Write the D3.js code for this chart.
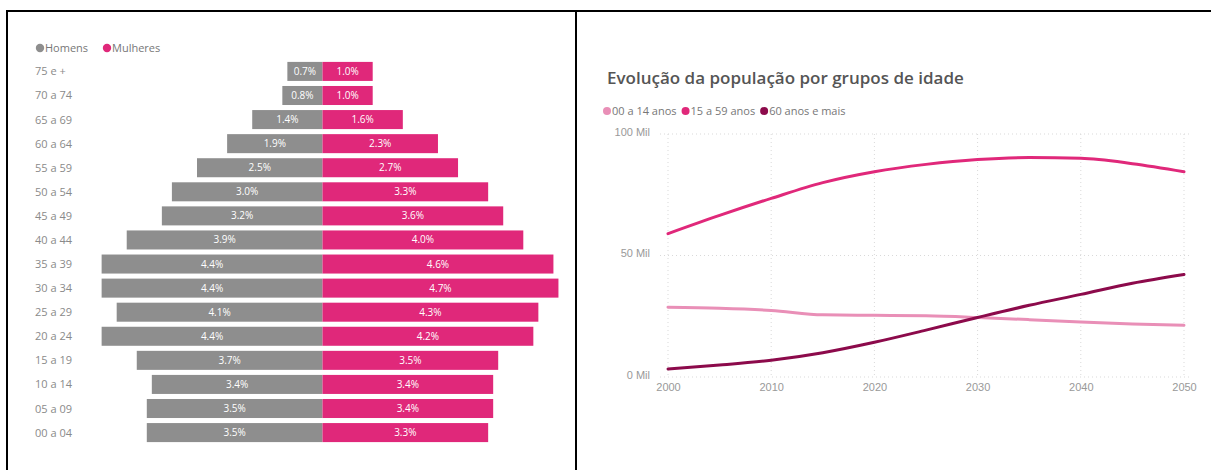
<!DOCTYPE html>
<html>
<head>
<meta charset="utf-8">
<title>Pirâmide etária e evolução da população</title>
<script src="https://cdn.jsdelivr.net/npm/d3@7"></script>
<style>
  body { margin: 0; background: #fff; }
  svg { display: block; font-family: "Open Sans", "Noto Sans", sans-serif; }
  .rowlab { font-size: 11px; fill: #8a8a8a; }
  .barlab { font-size: 10px; fill: #fff; text-anchor: middle; }
  .leg { font-size: 11px; fill: #777; }
  .leg2 { font-size: 11px; fill: #777; }
  .tick text { font-size: 11px; fill: #999; }
  .grid line { stroke: #d9d9d9; stroke-dasharray: 1,3; }
</style>
</head>
<body>
<div id="chart"></div>
<script>
// pyramid data (% of population), top row first
var ageGroups = ["75 e +","70 a 74","65 a 69","60 a 64","55 a 59","50 a 54","45 a 49","40 a 44",
                 "35 a 39","30 a 34","25 a 29","20 a 24","15 a 19","10 a 14","05 a 09","00 a 04"];
var homens   = [0.7, 0.8, 1.4, 1.9, 2.5, 3.0, 3.2, 3.9, 4.4, 4.4, 4.1, 4.4, 3.7, 3.4, 3.5, 3.5];
var mulheres = [1.0, 1.0, 1.6, 2.3, 2.7, 3.3, 3.6, 4.0, 4.6, 4.7, 4.3, 4.2, 3.5, 3.4, 3.4, 3.3];

// population evolution (thousands, "Mil")
var anos      = [2000, 2005, 2010, 2015, 2020, 2025, 2030, 2035, 2040, 2045, 2050];
var jovens    = [28.7, 28.3, 27.4, 25.6, 25.4, 25.2, 24.5, 23.6, 22.6, 21.8, 21.3];
var adultos   = [59.0, 66.5, 73.5, 80.0, 84.5, 87.5, 89.5, 90.3, 90.0, 87.8, 84.5];
var idosos    = [3.3, 4.9, 6.9, 10.0, 14.3, 19.3, 24.5, 29.5, 34.0, 38.6, 42.2];
var serieNames = ["00 a 14 anos", "15 a 59 anos", "60 anos e mais"];
var yTicks = [0, 50, 100];
var xTicks = [2000, 2010, 2020, 2030, 2040, 2050];

var W = 1211, H = 470;
var svg = d3.select("#chart").append("svg").attr("width", W).attr("height", H);
svg.append("rect").attr("width", W).attr("height", H).attr("fill", "#fff");

var gray = "#8e8e8e", pink = "#e0287a";

// ---------- pyramid ----------
var cx = 322.5;
var xs = d3.scaleLinear().domain([0, 5]).range([0, 251]);
var ys = d3.scaleBand().domain(ageGroups).range([59.5, 444.5]).paddingInner(0.21).paddingOuter(0.1);

var leg1 = svg.append("g").attr("transform", "translate(40,48)");
leg1.append("circle").attr("r", 4.2).attr("fill", gray);
leg1.append("text").attr("class", "leg").attr("x", 5).attr("y", 4).text("Homens");
leg1.append("circle").attr("cx", 67).attr("r", 4.2).attr("fill", pink);
leg1.append("text").attr("class", "leg").attr("x", 72).attr("y", 4).text("Mulheres");

svg.append("g").selectAll("text").data(ageGroups).join("text")
  .attr("class", "rowlab")
  .attr("x", 35)
  .attr("y", function(d){ return ys(d) + ys.bandwidth()/2 + 4; })
  .text(function(d){ return d; });

var rows = svg.append("g").selectAll("g").data(ageGroups).join("g");
rows.append("rect")
  .attr("x", function(d,i){ return cx - xs(homens[i]); })
  .attr("y", function(d){ return ys(d); })
  .attr("width", function(d,i){ return xs(homens[i]); })
  .attr("height", ys.bandwidth())
  .attr("fill", gray);
rows.append("rect")
  .attr("x", cx)
  .attr("y", function(d){ return ys(d); })
  .attr("width", function(d,i){ return xs(mulheres[i]); })
  .attr("height", ys.bandwidth())
  .attr("fill", pink);
rows.append("text").attr("class", "barlab")
  .attr("x", function(d,i){ return cx - xs(homens[i])/2; })
  .attr("y", function(d){ return ys(d) + ys.bandwidth()/2 + 3.5; })
  .text(function(d,i){ return homens[i].toFixed(1) + "%"; });
rows.append("text").attr("class", "barlab")
  .attr("x", function(d,i){ return cx + xs(mulheres[i])/2; })
  .attr("y", function(d){ return ys(d) + ys.bandwidth()/2 + 3.5; })
  .text(function(d,i){ return mulheres[i].toFixed(1) + "%"; });

// ---------- line chart ----------
var lx = d3.scaleLinear().domain([2000, 2050]).range([668, 1184]);
var ly = d3.scaleLinear().domain([0, 100]).range([377, 134]);

svg.append("text").attr("x", 607).attr("y", 84)
  .attr("font-size", 17).attr("font-weight", 600).attr("fill", "#555")
  .text("Evolução da população por grupos de idade");

var colors = ["#e98fb7", "#e0287a", "#8c0a4b"];
// legend items laid out one after another
var lgX = 607;
serieNames.forEach(function(name, i){
  var g = svg.append("g").attr("transform", "translate(" + lgX + ",111)");
  g.append("circle").attr("r", 4).attr("fill", colors[i]);
  var t = g.append("text").attr("class", "leg2").attr("x", 5).attr("y", 4).text(name);
  lgX += 5 + t.node().getComputedTextLength() + 9;
});

// grid
var grid = svg.append("g").attr("class", "grid");
grid.selectAll("line.h").data(yTicks).join("line").attr("class", "h")
  .attr("x1", 660).attr("x2", 1190)
  .attr("y1", function(d){ return ly(d); }).attr("y2", function(d){ return ly(d); });
grid.selectAll("line.v").data(xTicks).join("line").attr("class", "v")
  .attr("x1", function(d){ return lx(d); }).attr("x2", function(d){ return lx(d); })
  .attr("y1", ly(100)).attr("y2", ly(0));

var yAxis = svg.append("g").attr("transform", "translate(650,0)")
  .call(d3.axisLeft(ly).tickValues(yTicks).tickSize(0).tickFormat(function(d){ return d + " Mil"; }));
yAxis.select(".domain").remove();
yAxis.selectAll("text").attr("x", 0).attr("dy", "0.1em");

var xAxis = svg.append("g").attr("transform", "translate(0,380)")
  .call(d3.axisBottom(lx).tickValues(xTicks).tickSize(0).tickFormat(d3.format("d")));
xAxis.select(".domain").remove();

var line = d3.line()
  .x(function(d,i){ return lx(anos[i]); })
  .y(function(d){ return ly(d); })
  .curve(d3.curveMonotoneX);
[jovens, adultos, idosos].forEach(function(s, i){
  svg.append("path").datum(s).attr("d", line)
    .attr("fill", "none").attr("stroke", colors[i]).attr("stroke-width", 3)
    .attr("stroke-linecap", "round");
});

// frame lines
var frame = svg.append("g").attr("stroke", "#000").attr("stroke-width", 2);
frame.append("line").attr("x1", 6).attr("x2", W).attr("y1", 11).attr("y2", 11);
frame.append("line").attr("x1", 7).attr("x2", 7).attr("y1", 10).attr("y2", H);
frame.append("line").attr("x1", 576).attr("x2", 576).attr("y1", 10).attr("y2", H);
</script>
</body>
</html>
